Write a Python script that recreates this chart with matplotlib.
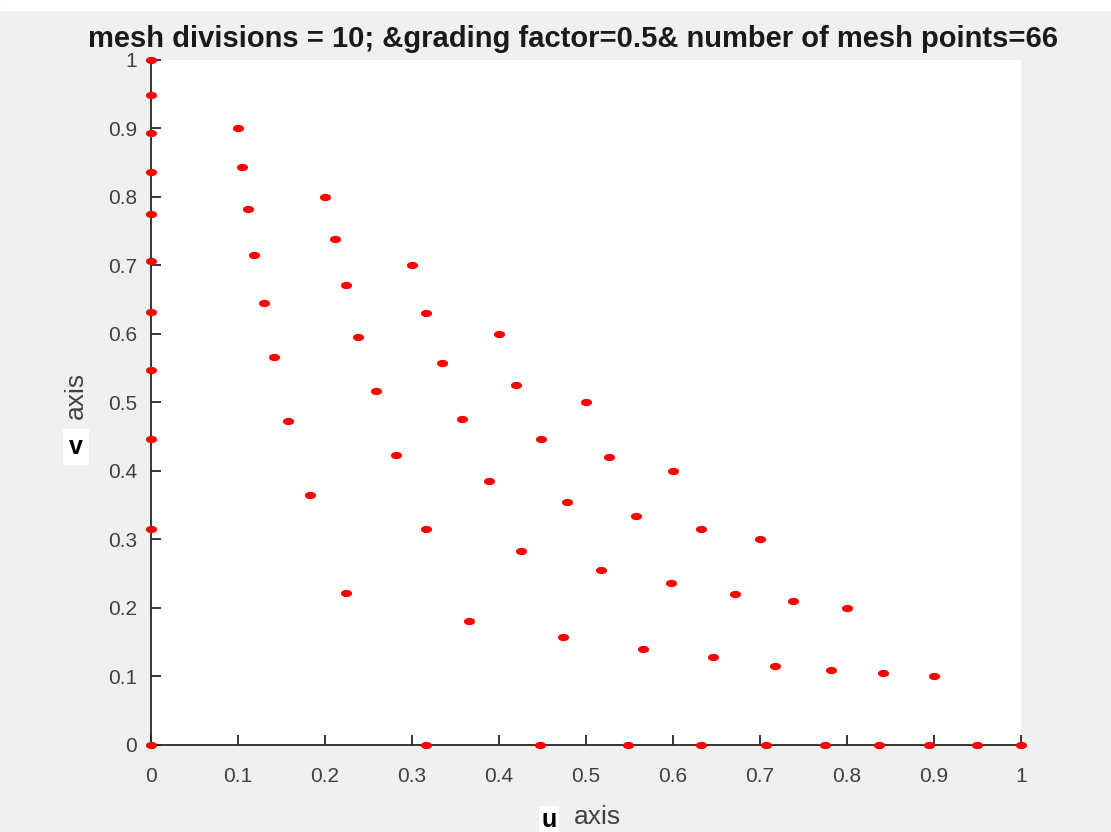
import numpy as np
import matplotlib
matplotlib.use('Agg')
import matplotlib.pyplot as plt
from matplotlib.path import Path
from matplotlib.patches import Rectangle

plt.rcParams['font.family'] = ['Liberation Sans', 'DejaVu Sans']

# mesh points, grouped edge by edge
left_u = [0, 0, 0, 0, 0, 0, 0, 0, 0, 0, 0]
left_v = [0, 0.316, 0.447, 0.548, 0.632, 0.707, 0.775, 0.837, 0.894, 0.949, 1.0]

bottom_u = [0.316, 0.447, 0.548, 0.632, 0.707, 0.775, 0.837, 0.894, 0.949, 1.0]
bottom_v = [0, 0, 0, 0, 0, 0, 0, 0, 0, 0]

hyp_u = [0.1, 0.2, 0.3, 0.4, 0.5, 0.6, 0.7, 0.8, 0.9]
hyp_v = [0.9, 0.8, 0.7, 0.6, 0.5, 0.4, 0.3, 0.2, 0.1]

inner_u = [0.105, 0.112, 0.118, 0.130, 0.141, 0.158, 0.183, 0.224,
           0.211, 0.224, 0.238, 0.259, 0.282, 0.316, 0.365,
           0.316, 0.335, 0.358, 0.388, 0.425, 0.473,
           0.420, 0.448, 0.478, 0.517, 0.565,
           0.526, 0.558, 0.598, 0.646,
           0.632, 0.671, 0.717,
           0.738, 0.782,
           0.841]
inner_v = [0.844, 0.783, 0.715, 0.645, 0.566, 0.473, 0.365, 0.222,
           0.739, 0.672, 0.595, 0.517, 0.423, 0.316, 0.181,
           0.630, 0.558, 0.476, 0.385, 0.283, 0.157,
           0.525, 0.446, 0.355, 0.256, 0.140,
           0.420, 0.335, 0.236, 0.128,
           0.316, 0.221, 0.116,
           0.210, 0.110,
           0.105]

u_pts = left_u + bottom_u + hyp_u + inner_u
v_pts = left_v + bottom_v + hyp_v + inner_v

xticks = [0, 0.1, 0.2, 0.3, 0.4, 0.5, 0.6, 0.7, 0.8, 0.9, 1]
yticks = [0, 0.1, 0.2, 0.3, 0.4, 0.5, 0.6, 0.7, 0.8, 0.9, 1]
tick_labels = ['0', '0.1', '0.2', '0.3', '0.4', '0.5', '0.6', '0.7', '0.8', '0.9', '1']

# dots in the picture are a bit wider than tall
t = np.linspace(0, 2 * np.pi, 40)
dot = Path(np.column_stack([np.cos(t), 0.6 * np.sin(t)]))

fig = plt.figure(figsize=(11.11, 8.32), dpi=100, facecolor='#f0f0f0')
fig.patches.append(Rectangle((0, 0.988), 1, 0.012, transform=fig.transFigure,
                             color='white', zorder=0))
ax = fig.add_axes([0.1359, 0.1046, 0.7831, 0.8233])
ax.plot(u_pts, v_pts, linestyle='none', marker=dot, markersize=7,
        color='#ff0000', clip_on=False, zorder=5)

ax.set_xlim(0, 1)
ax.set_ylim(0, 1)
ax.set_xticks(xticks)
ax.set_xticklabels(tick_labels)
ax.set_yticks(yticks)
ax.set_yticklabels(tick_labels)
ax.tick_params(direction='in', length=7, width=1.3, colors='#262626',
               labelcolor='#404040', labelsize=15)
ax.tick_params(axis='x', pad=16)
ax.tick_params(axis='y', pad=10)
for side in ['top', 'right']:
    ax.spines[side].set_visible(False)
for side in ['left', 'bottom']:
    ax.spines[side].set_color('#262626')
    ax.spines[side].set_linewidth(1.3)

fig.text(573 / 1111, 1 - 39 / 832,
         'mesh divisions = 10; &grading factor=0.5& number of mesh points=66',
         ha='center', va='center', fontsize=21, fontweight='bold', color='#1a1a1a')

# axis labels: bold letter on a white patch plus plain "axis"
fig.text(549 / 1111, 1 - 820 / 832, 'u', ha='center', va='center', fontsize=18,
         fontweight='bold', color='black',
         bbox=dict(boxstyle='square,pad=0.1', fc='white', ec='none'))
fig.text(597 / 1111, 1 - 817 / 832, 'axis', ha='center', va='center',
         fontsize=19, color='#404040')
fig.text(76 / 1111, 1 - 447 / 832, 'v', ha='center', va='center', fontsize=18,
         fontweight='bold', color='black',
         bbox=dict(boxstyle='square,pad=0.25', fc='white', ec='none'))
fig.text(76 / 1111, 1 - 395 / 832, 'axis', ha='center', va='center',
         fontsize=19, color='#404040', rotation=90)

fig.savefig('out.png', dpi=100, facecolor=fig.get_facecolor())
